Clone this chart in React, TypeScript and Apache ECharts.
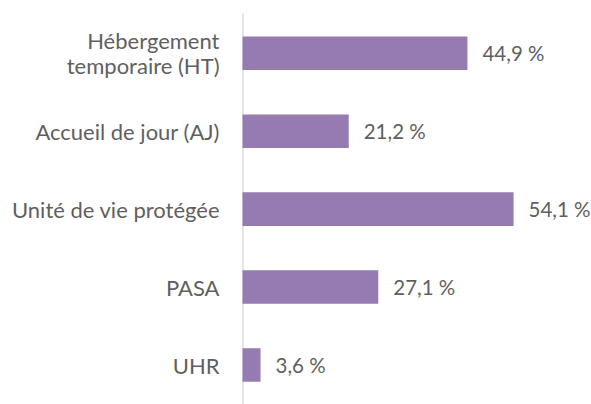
import React, { useEffect, useRef } from "react";
import * as echarts from "echarts";

const categories = [
  "Hébergement\ntemporaire (HT)",
  "Accueil de jour (AJ)",
  "Unité de vie protégée",
  "PASA",
  "UHR",
];
const values = [44.9, 21.2, 54.1, 27.1, 3.6];

export default function App() {
  const ref = useRef<HTMLDivElement>(null);
  useEffect(() => {
    if (!ref.current) return;
    const chart = echarts.init(ref.current, undefined, { renderer: "svg" });
    chart.setOption({
      animation: false,
      grid: { left: 242.5, top: 14.25, width: 300.6, height: 397.5 },
      xAxis: {
        type: "value",
        min: 0,
        max: 60,
        show: false,
      },
      yAxis: {
        type: "category",
        data: categories,
        inverse: true,
        axisLine: { show: true, lineStyle: { color: "#d9dde2", width: 1.5 } },
        axisTick: { show: false },
        axisLabel: {
          color: "#5f5f5f",
          fontFamily: "Lato",
          fontSize: 22,
          margin: 23,
          lineHeight: 25,
          align: "right",
        },
      },
      series: [
        {
          type: "bar",
          data: values,
          barCategoryGap: "57%",
          itemStyle: { color: "#957bb0" },
          label: {
            show: true,
            position: "right",
            distance: 15,
            color: "#5f5f5f",
            fontFamily: "Lato",
            fontSize: 20.5,
            formatter: (p: any) => p.value.toFixed(1).replace(".", ",") + " %",
          },
        },
      ],
    });
    return () => chart.dispose();
  }, []);
  return (
    <div
      ref={ref}
      style={{ position: "absolute", left: 0, top: 0, width: 591, height: 404 }}
    />
  );
}
